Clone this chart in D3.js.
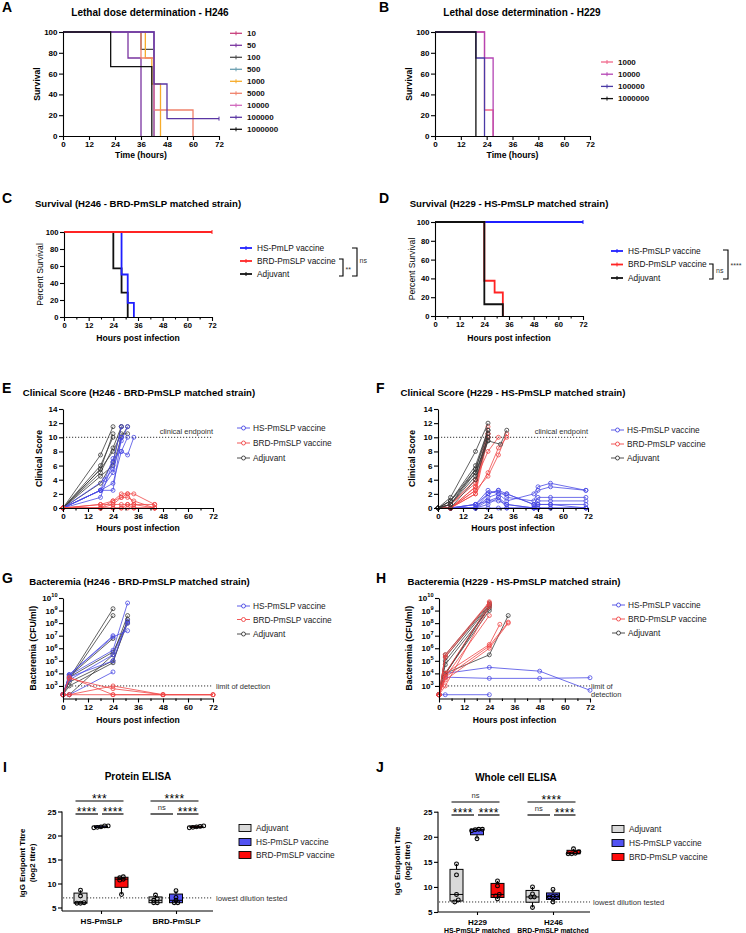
<!DOCTYPE html>
<html><head><meta charset="utf-8">
<script src="https://cdn.jsdelivr.net/npm/d3@7"></script>
<style>body{margin:0;background:#fff}</style>
</head><body>
<svg id="c" width="746" height="933"></svg>
<script>
// ================= DATA =================
const hourTicks = [0,12,24,36,48,60,72];
const hourMinor = [6,18,30,42,54,66];
const survTicks = [0,20,40,60,80,100];
const scoreTicks = [0,2,4,6,8,10,12,14];
const cfuTicks = [1e3,1e4,1e5,1e6,1e7,1e8,1e9,1e10];
const titreTicks = [5,10,15,20,25];

// A: lethal dose H246 (time, % survival after step)
const dosesA = ["10","50","100","500","1000","5000","10000","100000","1000000"];
const survA = [
  [[0,100],[42,0]],
  [[0,100],[30,75],[36,0]],
  [[0,100],[36,83.3],[42,0]],
  [[0,100],[42,0]],
  [[0,100],[38,75],[41,50],[45,0]],
  [[0,100],[36,75],[42,25],[60,0]],
  [[0,100],[42,0]],
  [[0,100],[42,50],[48,16.7],[72,16.7]],
  [[0,100],[22,66.7],[41,0]]
];
// B: lethal dose H229
const dosesB = ["1000","10000","100000","1000000"];
const survB = [
  [[0,100],[23,25],[27,0]],
  [[0,100],[23,75],[27,0]],
  [[0,100],[19,75],[23,0]],
  [[0,100],[19,0]]
];
// C / D survival
const legendC = ["HS-PmLP vaccine","BRD-PmSLP vaccine","Adjuvant"];
const legendD = ["HS-PmSLP vaccine","BRD-PmSLP vaccine","Adjuvant"];
const survC_HS  = [[0,100],[28,50],[31,16.7],[34,0]];
const survC_BRD = [[0,100],[72,100]];
const survC_Adj = [[0,100],[24,57.1],[28,28.6],[31,0]];
const survD_HS  = [[0,100],[72,100]];
const survD_BRD = [[0,100],[24,37.5],[29,25],[33,0]];
const survD_Adj = [[0,100],[24,12.5],[33,0]];
const sigC = ["**","ns"];
const sigD = ["ns","****"];

// E clinical score H246
const scoreE_HS = [
  [[0,0],[18,2.5],[24,5],[28,10]],
  [[0,0],[18,1.5],[24,6.5],[28,11.5]],
  [[0,0],[18,2.5],[24,3.5],[28,8],[31,10]],
  [[0,0],[20,4],[24,5.5],[28,9.5],[31,11.5]],
  [[0,0],[18,2.5],[24,2.5],[28,10]],
  [[0,0],[18,2.5],[24,7],[28,8],[31,7.5],[34,10]]
];
const scoreE_BRD = [
  [[0,0],[18,0.5],[24,1],[28,2],[31,2],[34,2],[44,0.5]],
  [[0,0],[18,0],[24,1],[28,1.5],[31,1.5],[34,1],[44,0]],
  [[0,0],[18,0.5],[24,0.5],[28,0.5],[31,0.5],[34,0.5],[44,0]],
  [[0,0],[18,0],[24,0],[28,0],[31,0],[34,0],[44,0]],
  [[0,0],[18,0],[24,0.5],[28,1.5],[31,2],[34,0.5],[44,0.5]],
  [[0,0],[18,0],[24,0],[28,0],[31,0.5],[34,0],[44,0]]
];
const scoreE_Adj = [
  [[0,0],[18,7.5],[24,11.5]],
  [[0,0],[18,5.5],[24,10.5]],
  [[0,0],[18,6],[24,10]],
  [[0,0],[18,5],[24,8.5],[28,11.5]],
  [[0,0],[18,4.5],[24,6],[28,10],[31,11.5]],
  [[0,0],[18,3.5],[24,6.5],[28,11.5]],
  [[0,0],[18,5.5],[24,8],[28,10.5],[31,10.5]]
];
// F clinical score H229
const scoreF_HS = [
  [[0,0],[6,0],[18,0.5],[24,2.5],[29,2],[33,2],[46,0.5],[48,1.5],[54,1.5],[71,1.5]],
  [[0,0],[6,0],[18,0],[24,2],[29,2.5],[33,1.5],[46,1],[48,2.5],[54,3],[71,2.5]],
  [[0,0],[6,0],[18,0],[24,1.5],[29,2],[33,1],[46,2],[48,3],[54,3.5],[71,2.5]],
  [[0,0],[6,0],[18,0.5],[24,1],[29,1.5],[33,0.5],[46,0],[48,0.5],[54,0.5],[71,0.5]],
  [[0,0],[6,0],[18,0],[24,0.5],[29,1.5],[33,0],[46,0],[48,1],[54,1],[71,1]],
  [[0,0],[6,0],[18,0],[24,0],[29,0],[33,0],[46,0],[48,0],[54,0],[71,0]],
  [[0,0],[6,0],[18,0.5],[24,2],[29,2.5],[33,2],[46,0.5],[48,0.5],[54,0.5],[71,0]],
  [[0,0],[6,0],[18,0],[24,1],[29,1],[33,0.5],[46,0],[48,0],[54,0],[71,0]]
];
const scoreF_BRD = [
  [[0,0],[6,0],[18,3],[24,11.5]],
  [[0,0],[6,0],[18,2.5],[24,10.5]],
  [[0,0],[6,0.5],[18,3.5],[24,10]],
  [[0,0],[6,0],[18,2],[24,10]],
  [[0,0],[6,0],[18,3],[24,10.5]],
  [[0,0],[6,0.5],[18,4],[24,8],[29,10]],
  [[0,0],[6,0],[18,2],[24,5],[29,8.5],[33,10]],
  [[0,0],[6,0],[18,2.5],[24,4.5],[29,7.5],[33,10.5]]
];
const scoreF_Adj = [
  [[0,0],[6,1.5],[18,8],[24,12]],
  [[0,0],[6,1],[18,6],[24,11]],
  [[0,0],[6,0.5],[18,5.5],[24,10.5]],
  [[0,0],[6,1],[18,5],[24,10]],
  [[0,0],[6,0.5],[18,4.5],[24,10]],
  [[0,0],[6,0],[18,4],[24,9.5]],
  [[0,0],[6,1],[18,5.5],[24,11]],
  [[0,0],[6,0.5],[18,5],[24,9.5],[30,9],[33,11]]
];
// G bacteremia H246 (CFU/ml)
const bactG_HS = [
  [[0,200],[3,8000],[24,1e7]],
  [[0,200],[3,7000],[24,7e5],[31,4e9]],
  [[0,200],[3,200],[24,1.3e4]],
  [[0,200],[3,5000],[24,1e5],[31,1.5e8]],
  [[0,200],[3,8000],[24,8e6],[31,2.5e7]],
  [[0,200],[3,3000],[24,3e5],[31,1e8]]
];
const bactG_BRD = [
  [[0,200],[3,5000],[24,200],[48,200],[72,200]],
  [[0,200],[3,200],[24,1000],[48,200],[72,200]],
  [[0,200],[3,4000],[24,600],[48,200]],
  [[0,200],[3,200],[24,200],[48,200],[72,200]]
];
const bactG_Adj = [
  [[0,200],[3,4000],[24,1.4e9]],
  [[0,200],[3,3000],[24,4e8]],
  [[0,200],[3,6000],[24,6e6]],
  [[0,200],[3,200],[24,3e5],[31,4e8]],
  [[0,200],[3,2000],[24,1e5],[31,1e8]],
  [[0,200],[3,5000],[24,5e5],[31,1.2e8]],
  [[0,200],[3,1000],[24,7e4],[31,2e8]]
];
// H bacteremia H229
const bactH_HS = [
  [[0,200],[3,1e4],[24,3e4],[48,1.5e4],[72,450]],
  [[0,200],[3,5000],[24,4000],[48,4000],[72,4500]],
  [[0,200],[3,200],[24,200]]
];
const bactH_BRD = [
  [[0,200],[3,3e5],[24,5e9]],
  [[0,200],[3,2e5],[24,4e9]],
  [[0,200],[3,1e4],[24,3e9]],
  [[0,200],[3,5000],[24,4e8]],
  [[0,200],[3,1000],[24,2e9]],
  [[0,200],[3,1e4],[24,2e6],[29,8e7]],
  [[0,200],[3,5000],[24,1.5e6],[33,1.2e8]],
  [[0,200],[3,3000],[24,1e6],[33,1e8]]
];
const bactH_Adj = [
  [[0,200],[3,3e5],[24,4e9]],
  [[0,200],[3,2e5],[24,3e9]],
  [[0,200],[3,1e5],[24,2.5e9]],
  [[0,200],[3,1e4],[24,2e9]],
  [[0,200],[3,5e4],[24,1.5e9]],
  [[0,200],[3,1e4],[24,1e9]],
  [[0,200],[3,8000],[24,3e9]],
  [[0,200],[3,1e4],[24,3e5],[33,4e8]]
];
const legendEH = ["HS-PmSLP vaccine","BRD-PmSLP vaccine","Adjuvant"];

// I / J ELISA (log2 titre)
const legendIJ = ["Adjuvant","HS-PmSLP vaccine","BRD-PmSLP vaccine"];
const groupsI = ["HS-PmSLP","BRD-PmSLP"];
const elisaI_Adj = [[5.9,5.9,6.0,7.4,8.6],[6,6,6.5,6.8,7.6]];
const elisaI_HS  = [[21.6,21.7,21.8,22,22],[6,6,6.5,7.1,8.5]];
const elisaI_BRD = [[7.7,10.7,10.9,11.2,11.4],[21.6,21.7,21.8,21.9,22]];
const sigI_top = ["***","****"];
const sigI_pair = [["****","****"],["ns","****"]];
const groupsJ = ["H229","H246"];
const subGroupsJ = ["HS-PmSLP matched","BRD-PmSLP matched"];
const elisaJ_Adj = [[7,7.4,8.5,12.4,14.6],[5.9,8.0,8.0,8.6,10]];
const elisaJ_HS  = [[19.6,21.2,21.4,21.5,21.5],[7,8,8.1,8.1,9.5]];
const elisaJ_BRD = [[7.6,8.2,8.5,10.2,11.2],[16.6,16.6,16.7,17.0,17.6]];
const sigJ_top = ["ns","****"];
const sigJ_pair = [["****","****"],["ns","****"]];
const lowestDilution = 7;
const clinicalEndpoint = 10;
const detectionLimit = 1000;

// ================= STYLE =================
const FONT = "'Liberation Sans', Arial, Helvetica, sans-serif";
const colA = ["#c8407c","#7a34a0","#4a4a4a","#6a9fb0","#f7ab2a","#f0826c","#d068bc","#5a36a4","#111"];
const colB = ["#f0668a","#b444b4","#4a3aa6","#111"];
const cBlue = "#1f1fff", cRed = "#ff2424", cBlack = "#111";
const lBlue = "#4a4ae4", lRed = "#f04646", lBlack = "#3a3a3a";
const fills = ["#d9d9d9","#5252f2","#ff0a0a"];

const svg = d3.select("#c");

function txt(x,y,s,size,weight,anchor,fill){
  return svg.append("text").attr("x",x).attr("y",y).text(s)
    .attr("font-size",size).attr("font-weight",weight||"normal")
    .attr("text-anchor",anchor||"start").attr("fill",fill||"#000")
    .attr("font-family",FONT);
}
function vtxt(x,y,s,size,weight){
  return svg.append("text").attr("transform",`translate(${x},${y}) rotate(-90)`)
    .attr("text-anchor","middle").text(s).attr("font-size",size)
    .attr("font-weight",weight||"normal").attr("fill","#000").attr("font-family",FONT);
}
function styleAxis(sel,fs){
  sel.select(".domain").attr("stroke","#000").attr("stroke-width",1.1);
  sel.selectAll(".tick line").attr("stroke","#000").attr("stroke-width",1.1);
  sel.selectAll(".tick text").attr("font-size",fs).attr("font-weight","bold")
    .attr("fill","#000").attr("font-family",FONT);
}
function xyAxes(x,y,o){
  const x0 = x.range()[0], y0 = y.range()[0];
  const gx = svg.append("g").attr("transform",`translate(0,${y0})`)
    .call(d3.axisBottom(x).tickValues(hourTicks).tickSize(4).tickSizeOuter(0).tickPadding(1.5));
  styleAxis(gx,o.fs);
  if(o.minor){
    const gm = svg.append("g").attr("transform",`translate(0,${y0})`)
      .call(d3.axisBottom(x).tickValues(hourMinor).tickSize(2.5).tickFormat(""));
    gm.select(".domain").remove();
    gm.selectAll("line").attr("stroke","#000").attr("stroke-width",1.1);
  }
  const ax = d3.axisLeft(y).tickValues(o.yTicks).tickSize(4).tickSizeOuter(0).tickPadding(1.5);
  if(o.log) ax.tickFormat("");
  const gy = svg.append("g").attr("transform",`translate(${x0},0)`).call(ax);
  styleAxis(gy,o.fs);
  if(o.log){
    gy.selectAll(".tick").each(function(d){
      const t = d3.select(this).append("text").attr("x",-5.5).attr("dy","0.32em")
        .attr("text-anchor","end").attr("font-size",o.fs).attr("font-weight","bold")
        .attr("fill","#000").attr("font-family",FONT);
      t.append("tspan").text("10");
      t.append("tspan").attr("dy",-3.6).attr("font-size",5.6).text(Math.round(Math.log10(d)));
    });
  }
  const xr = x.range(), yr = y.range();
  txt((xr[0]+xr[1])/2, o.xLabY, o.xLab, o.labFs, "bold", "middle");
  vtxt(o.yLabX, (yr[0]+yr[1])/2, o.yLab, o.labFs, o.yBold?"bold":"normal");
}
function km(x,y,s,color,w){
  const line = d3.line().x(d=>x(d[0])).y(d=>y(d[1])).curve(d3.curveStepAfter);
  svg.append("path").attr("d",line(s)).attr("fill","none").attr("stroke",color)
    .attr("stroke-width",w).attr("stroke-linejoin","miter");
  const last = s[s.length-1];
  if(last[1]>0){
    svg.append("line").attr("x1",x(last[0])).attr("x2",x(last[0]))
      .attr("y1",y(last[1])-2).attr("y2",y(last[1])+2).attr("stroke",color).attr("stroke-width",1);
  }
}
function kmLegend(x1,ys,labels,colors,w,fs,weight){
  labels.forEach((l,i)=>{
    svg.append("line").attr("x1",x1).attr("x2",x1+12).attr("y1",ys[i]).attr("y2",ys[i])
      .attr("stroke",colors[i]).attr("stroke-width",w);
    svg.append("line").attr("x1",x1+6).attr("x2",x1+6).attr("y1",ys[i]-2).attr("y2",ys[i]+2)
      .attr("stroke",colors[i]).attr("stroke-width",1);
    txt(x1+17,ys[i]+fs*0.35,l,fs,weight,"start","#111");
  });
}
function spaghetti(x,y,animals,color){
  const line = d3.line().x(d=>x(d[0])).y(d=>y(d[1]));
  animals.forEach(a=>{
    svg.append("path").attr("d",line(a)).attr("fill","none").attr("stroke",color).attr("stroke-width",0.8);
  });
  animals.forEach(a=>{
    svg.append("g").selectAll("circle").data(a).join("circle")
      .attr("cx",d=>x(d[0])).attr("cy",d=>y(d[1])).attr("r",2)
      .attr("fill","none").attr("stroke",color).attr("stroke-width",0.8);
  });
}
function dotLegend(x1,ys,labels,colors){
  labels.forEach((l,i)=>{
    svg.append("line").attr("x1",x1).attr("x2",x1+13).attr("y1",ys[i]).attr("y2",ys[i])
      .attr("stroke",colors[i]).attr("stroke-width",0.9);
    svg.append("circle").attr("cx",x1+6.5).attr("cy",ys[i]).attr("r",2)
      .attr("fill","#fff").attr("stroke",colors[i]).attr("stroke-width",0.9);
    txt(x1+16,ys[i]+3,l,8.3,"normal","start","#222");
  });
}
function dotted(x1,x2,yy){
  svg.append("line").attr("x1",x1).attr("x2",x2).attr("y1",yy).attr("y2",yy)
    .attr("stroke","#333").attr("stroke-width",1).attr("stroke-dasharray","1.2,1.8");
}
function bracket(x,y1,y2,arm){
  svg.append("path").attr("d",`M${x-arm},${y1}H${x}V${y2}H${x-arm}`)
    .attr("fill","none").attr("stroke","#000").attr("stroke-width",1.1);
}
function q6(v,p){
  const s = v.slice().sort((a,b)=>a-b), n = s.length;
  const h = (n+1)*p-1;
  if(h<=0) return s[0];
  if(h>=n-1) return s[n-1];
  const lo = Math.floor(h);
  return s[lo]+(h-lo)*(s[lo+1]-s[lo]);
}
function spread(vals,tol,step){
  const s = vals.map((v,i)=>({v,i})).sort((a,b)=>a.v-b.v);
  const off = new Array(vals.length).fill(0);
  let cl = [];
  const flush = ()=>{ cl.forEach((e,j)=>{ off[e.i]=(j-(cl.length-1)/2)*step; }); cl=[]; };
  s.forEach(e=>{ if(cl.length && e.v-cl[0].v>tol) flush(); cl.push(e); });
  flush();
  return off;
}
function elisa(o){
  const y = d3.scaleLinear().domain([5,25]).range(o.yRange);
  const gx = d3.scalePoint().domain(o.groups).range(o.centers);
  const sub = d3.scalePoint().domain([0,1,2]).range([-20.5,20.5]);
  const gy = svg.append("g").attr("transform",`translate(${o.yAxisX},0)`)
    .call(d3.axisLeft(y).tickValues(titreTicks).tickSize(4).tickSizeOuter(0).tickPadding(1.5));
  styleAxis(gy,8);
  gy.select(".domain").attr("d",`M0,${y(25)}V${o.xAxisY}`);
  const gxa = svg.append("g").attr("transform",`translate(0,${o.xAxisY})`)
    .call(d3.axisBottom(gx).tickSize(3).tickSizeOuter(0).tickPadding(4));
  styleAxis(gxa,8);
  gxa.select(".domain").attr("d",`M${o.yAxisX},0H${o.xEnd}`);
  if(o.sub){
    o.sub.forEach((s,i)=> txt(gx(o.groups[i]), o.subY, s, 6.9, "bold", "middle"));
  }
  dotted(o.yAxisX+1, o.xEnd, y(lowestDilution));
  txt(o.xEnd+3, y(lowestDilution)+2.7, "lowest dilution tested", 7.7, "normal", "start", "#333");
  const series = [o.adj,o.hs,o.brd];
  o.groups.forEach((g,gi)=>{
    series.forEach((ser,si)=>{
      const v = ser[gi];
      const cx = gx(g)+sub(si);
      const mn = d3.min(v), mx = d3.max(v);
      const q1 = q6(v,0.25), md = q6(v,0.5), q3 = q6(v,0.75);
      svg.append("line").attr("x1",cx).attr("x2",cx).attr("y1",y(mn)).attr("y2",y(mx))
        .attr("stroke","#000").attr("stroke-width",1.1);
      svg.append("rect").attr("x",cx-6.5).attr("width",13).attr("y",y(q3))
        .attr("height",Math.max(1,y(q1)-y(q3))).attr("fill",fills[si])
        .attr("stroke","#000").attr("stroke-width",1);
      svg.append("line").attr("x1",cx-6.5).attr("x2",cx+6.5).attr("y1",y(md)).attr("y2",y(md))
        .attr("stroke","#000").attr("stroke-width",1);
      const off = spread(v,0.45,3.6);
      v.forEach((d,i)=>{
        svg.append("circle").attr("cx",cx+off[i]).attr("cy",y(d)).attr("r",1.9)
          .attr("fill","none").attr("stroke","#000").attr("stroke-width",1.1);
      });
    });
    const c0 = gx(g)+sub(0), c1 = gx(g)+sub(1), c2 = gx(g)+sub(2);
    const sig = (x1,x2,yy,lab)=>{
      svg.append("line").attr("x1",x1).attr("x2",x2).attr("y1",yy).attr("y2",yy)
        .attr("stroke","#000").attr("stroke-width",1.2);
      if(lab==="ns") txt((x1+x2)/2, yy-3.8, lab, 7.6, "normal", "middle", "#333");
      else txt((x1+x2)/2, yy+1.8, lab, 12, "normal", "middle", "#000").attr("letter-spacing",0.3);
    };
    sig(c0-5, c2+2, o.sigY[0], o.sigTop[gi]);
    sig(c0-5, c1-3, o.sigY[1], o.sigPair[gi][0]);
    sig(c1+1, c2+2, o.sigY[1], o.sigPair[gi][1]);
  });
  vtxt(o.yLabX[0], o.yLabCY, "IgG Endpoint Titre", 7.9, "bold");
  vtxt(o.yLabX[1], o.yLabCY, "(log2 titre)", 7.9, "bold");
  legendIJ.forEach((l,i)=>{
    svg.append("rect").attr("x",o.legX).attr("y",o.legY[i]-3.5).attr("width",12).attr("height",7)
      .attr("fill",fills[i]).attr("stroke","#000").attr("stroke-width",0.9);
    txt(o.legX+17,o.legY[i]+3,l,8.3,"normal","start","#222");
  });
}

// ================= PANEL LETTERS =================
[["A",2,11.5],["B",379,11.5],["C",2,203],["D",379,203],["E",2,393],["F",376,393],
 ["G",2,583],["H",376,583],["I",3,772],["J",376,772]].forEach(p=>txt(p[1],p[2],p[0],14,"bold"));

// ================= A =================
{
  const x = d3.scaleLinear().domain([0,72]).range([63,219]);
  const y = d3.scaleLinear().domain([0,100]).range([136,32]);
  txt(150,16,"Lethal dose determination - H246",10,"bold","middle");
  survA.forEach((s,i)=>km(x,y,s,colA[i],1.3));
  xyAxes(x,y,{fs:8,yTicks:survTicks,xLab:"Time (hours)",xLabY:158,yLab:"Survival",yLabX:40,labFs:8.6,yBold:true});
  kmLegend(230, dosesA.map((d,i)=>33.3+12*i), dosesA, colA, 1.3, 8, "bold");
}
// ================= B =================
{
  const x = d3.scaleLinear().domain([0,72]).range([435,590]);
  const y = d3.scaleLinear().domain([0,100]).range([136,32]);
  txt(522,16,"Lethal dose determination - H229",10,"bold","middle");
  survB.forEach((s,i)=>km(x,y,s,colB[i],1.3));
  xyAxes(x,y,{fs:8,yTicks:survTicks,xLab:"Time (hours)",xLabY:158,yLab:"Survival",yLabX:412,labFs:8.6,yBold:true});
  kmLegend(601, [62,74.2,86.4,98.6], dosesB, colB, 1.3, 8, "bold");
}
// ================= C =================
{
  const x = d3.scaleLinear().domain([0,72]).range([64,212]);
  const y = d3.scaleLinear().domain([0,100]).range([317,232]);
  txt(138,206.5,"Survival (H246 - BRD-PmSLP matched strain)",9.6,"bold","middle");
  km(x,y,survC_Adj,cBlack,1.8);
  km(x,y,survC_HS,cBlue,1.8);
  km(x,y,survC_BRD,cRed,1.8);
  xyAxes(x,y,{fs:7.6,minor:true,yTicks:survTicks,xLab:"Hours post infection",xLabY:341,yLab:"Percent Survival",yLabX:43,labFs:8.6});
  kmLegend(240, [248,261,274], legendC, [cBlue,cRed,cBlack], 1.8, 8.3, "normal");
  bracket(343,259,276,4); txt(345.5,272,sigC[0],7,"normal","start","#333");
  bracket(357,248,276,5); txt(359.5,263,sigC[1],7,"normal","start","#333");
}
// ================= D =================
{
  const x = d3.scaleLinear().domain([0,72]).range([435,583]);
  const y = d3.scaleLinear().domain([0,100]).range([316,222]);
  txt(509,206.5,"Survival (H229 - HS-PmSLP matched strain)",9.6,"bold","middle");
  km(x,y,survD_HS,cBlue,1.8);
  km(x,y,survD_BRD,cRed,1.8);
  km(x,y,survD_Adj,cBlack,1.8);
  xyAxes(x,y,{fs:7.6,minor:true,yTicks:survTicks,xLab:"Hours post infection",xLabY:341,yLab:"Percent Survival",yLabX:415,labFs:8.6});
  kmLegend(611, [251,264.5,278], legendD, [cBlue,cRed,cBlack], 1.8, 8.3, "normal");
  bracket(713,264,279,4); txt(716,273,sigD[0],7,"normal","start","#333");
  bracket(728,250,279,5); txt(730.5,268,sigD[1],7,"normal","start","#333");
}
// ================= E =================
{
  const x = d3.scaleLinear().domain([0,72]).range([63,213]);
  const y = d3.scaleLinear().domain([0,14]).range([508,409]);
  txt(139,396,"Clinical Score (H246 - BRD-PmSLP matched strain)",9.6,"bold","middle");
  dotted(x(0),x(72),y(clinicalEndpoint));
  txt(x(72),y(clinicalEndpoint)-3.5,"clinical endpoint",7.5,"normal","end","#333");
  spaghetti(x,y,scoreE_Adj,lBlack);
  spaghetti(x,y,scoreE_HS,lBlue);
  spaghetti(x,y,scoreE_BRD,lRed);
  xyAxes(x,y,{fs:8,minor:true,yTicks:scoreTicks,xLab:"Hours post infection",xLabY:531,yLab:"Clinical Score",yLabX:42,labFs:8.6,yBold:true});
  dotLegend(237,[428,443,458],legendEH,[lBlue,lRed,lBlack]);
}
// ================= F =================
{
  const x = d3.scaleLinear().domain([0,72]).range([438,588]);
  const y = d3.scaleLinear().domain([0,14]).range([508,409]);
  txt(513,396,"Clinical Score (H229 - HS-PmSLP matched strain)",9.6,"bold","middle");
  dotted(x(0),x(72),y(clinicalEndpoint));
  txt(x(72),y(clinicalEndpoint)-3.5,"clinical endpoint",7.5,"normal","end","#333");
  spaghetti(x,y,scoreF_HS,lBlue);
  spaghetti(x,y,scoreF_BRD,lRed);
  spaghetti(x,y,scoreF_Adj,lBlack);
  xyAxes(x,y,{fs:8,minor:true,yTicks:scoreTicks,xLab:"Hours post infection",xLabY:531,yLab:"Clinical Score",yLabX:415,labFs:8.6,yBold:true});
  dotLegend(611,[430,444,458],legendEH,[lBlue,lRed,lBlack]);
}
// ================= G =================
{
  const x = d3.scaleLinear().domain([0,72]).range([63,213]);
  const y = d3.scaleLog().domain([100,1e10]).range([698.5,598]);
  txt(139.5,585,"Bacteremia (H246 - BRD-PmSLP matched strain)",9.6,"bold","middle");
  dotted(x(0),x(72),y(detectionLimit));
  txt(216,y(detectionLimit)+2.7,"limit of detection",7.5,"normal","start","#333");
  spaghetti(x,y,bactG_Adj,lBlack);
  spaghetti(x,y,bactG_HS,lBlue);
  spaghetti(x,y,bactG_BRD,lRed);
  xyAxes(x,y,{fs:8,minor:true,log:true,yTicks:cfuTicks,xLab:"Hours post infection",xLabY:723,yLab:"Bacteremia (CFU/ml)",yLabX:36,labFs:8.6,yBold:true});
  dotLegend(237,[606,619.5,634],legendEH,[lBlue,lRed,lBlack]);
}
// ================= H =================
{
  const x = d3.scaleLinear().domain([0,72]).range([439,590]);
  const y = d3.scaleLog().domain([100,1e10]).range([698.5,598]);
  txt(514,585,"Bacteremia (H229 - HS-PmSLP matched strain)",9.6,"bold","middle");
  dotted(x(0),x(72),y(detectionLimit));
  txt(591,y(detectionLimit)+2.7,"limit of",7.5,"normal","start","#333");
  txt(591,y(detectionLimit)+11.5,"detection",7.5,"normal","start","#333");
  spaghetti(x,y,bactH_HS,lBlue);
  spaghetti(x,y,bactH_Adj,lBlack);
  spaghetti(x,y,bactH_BRD,lRed);
  xyAxes(x,y,{fs:8,minor:true,log:true,yTicks:cfuTicks,xLab:"Hours post infection",xLabY:723,yLab:"Bacteremia (CFU/ml)",yLabX:411.5,labFs:8.6,yBold:true});
  dotLegend(612,[605,619,633],legendEH,[lBlue,lRed,lBlack]);
}
// ================= I =================
txt(138,780,"Protein ELISA",10,"bold","middle");
elisa({groups:groupsI, centers:[101,176], yRange:[907.5,811.5], yAxisX:62, xAxisY:911, xEnd:213,
  adj:elisaI_Adj, hs:elisaI_HS, brd:elisaI_BRD, sigTop:sigI_top, sigPair:sigI_pair, sigY:[801,814],
  yLabX:[25,35], yLabCY:863, legX:239, legY:[828,842,855]});
// ================= J =================
txt(516,781,"Whole cell ELISA",10,"bold","middle");
elisa({groups:groupsJ, centers:[477,553], yRange:[912,811.7], yAxisX:438, xAxisY:912, xEnd:590,
  sub:subGroupsJ, subY:932.5,
  adj:elisaJ_Adj, hs:elisaJ_HS, brd:elisaJ_BRD, sigTop:sigJ_top, sigPair:sigJ_pair, sigY:[802,815],
  yLabX:[400,410], yLabCY:861, legX:612, legY:[829,843,857]});
</script>
</body></html>
